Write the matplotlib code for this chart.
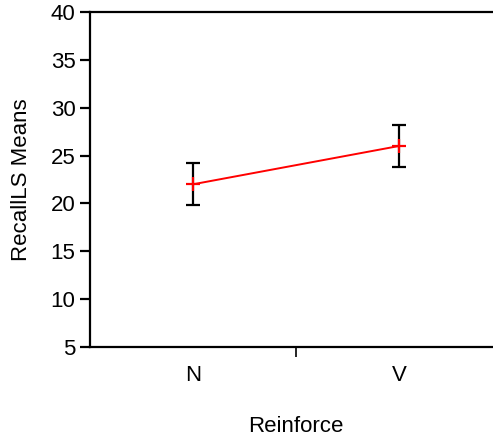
import matplotlib
matplotlib.use("Agg")
import matplotlib.pyplot as plt
from matplotlib.ticker import FixedLocator

plt.rcParams['font.family'] = ['Liberation Sans', 'DejaVu Sans']

categories = ["N", "V"]
means = [22.0, 26.0]
errors = [2.2, 2.2]
yticks = [5, 10, 15, 20, 25, 30, 35, 40]

W, H = 493, 442
FS = 16
fig = plt.figure(figsize=(W / 100, H / 100), dpi=100)
ax = fig.add_axes([90 / W, 95 / H, 412 / W, 335 / H])

xpos = [1, 3]
ax.errorbar(xpos, means, yerr=errors, fmt='none', ecolor='black',
            elinewidth=1.6, capsize=5, capthick=1.6, zorder=2)
ax.plot(xpos, means, color='red', linewidth=1.4, marker='+',
        markersize=10, markeredgewidth=1.6, zorder=3)

ax.set_xlim(0, 4)
ax.set_ylim(5, 40)
ax.set_yticks(yticks)
ax.set_xticks(xpos)
ax.set_xticklabels(categories)
ax.xaxis.set_minor_locator(FixedLocator([2]))

for s in ['left', 'top', 'bottom']:
    ax.spines[s].set_linewidth(1.6)
ax.spines['right'].set_visible(False)

ax.tick_params(axis='y', direction='out', length=7.5, width=1.6,
               labelsize=FS, pad=3)
ax.tick_params(axis='x', which='major', length=0, labelsize=FS, pad=13)
ax.tick_params(axis='x', which='minor', direction='out', length=7.5, width=1.2)

ax.set_xlabel("Reinforce", fontsize=FS)
ax.xaxis.label.set_va('center')
ax.xaxis.set_label_coords(0.5, (15 - 95) / 335)
ax.set_ylabel("RecallLS Means", fontsize=FS)
ax.yaxis.label.set_va('center')
ax.yaxis.set_label_coords((22 - 90) / 412, 0.5)

fig.savefig("out.png", dpi=100)
